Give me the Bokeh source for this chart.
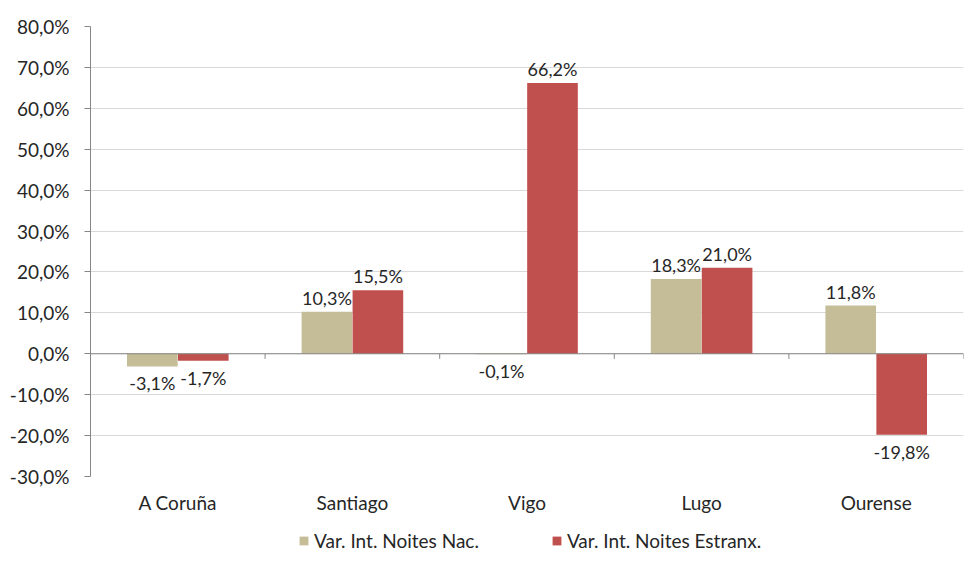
from bokeh.plotting import figure
from bokeh.layouts import column
from bokeh.models import (ColumnDataSource, Legend, LegendItem, Span,
                          CustomJSTickFormatter, FixedTicker, Range1d)
from bokeh.transform import dodge
from bokeh.core.properties import value
from bokeh.embed import file_html
from bokeh.resources import INLINE

categories = ["A Coruña", "Santiago", "Vigo", "Lugo", "Ourense"]
nac = [-3.1, 10.3, -0.1, 18.3, 11.8]
estranx = [-1.7, 15.5, 66.2, 21.0, -19.8]
series_names = ["Var. Int. Noites Nac.", "Var. Int. Noites Estranx."]
y_ticks = [-30, -20, -10, 0, 10, 20, 30, 40, 50, 60, 70, 80]

colors = ["#C4BD97", "#C0504D"]
FONT = "Lato"
TXT = "#262626"
offsets = [-0.146, 0.146]
bar_w = 0.29
LEFT = 90


def fmt(v):
    return f"{v:.1f}".replace(".", ",") + "%"


p = figure(x_range=categories, y_range=Range1d(y_ticks[0], y_ticks[-1]),
           width=964, height=528, output_backend="svg", toolbar_location=None,
           min_border_left=LEFT, min_border_right=1, min_border_top=26,
           min_border_bottom=52)
p.outline_line_color = None
p.background_fill_color = "white"

# grid
p.xgrid.grid_line_color = None
p.ygrid.grid_line_color = "#D9D9D9"
p.ygrid.grid_line_width = 1
p.yaxis.ticker = FixedTicker(ticks=y_ticks)

# y axis
p.yaxis.formatter = CustomJSTickFormatter(code="return tick.toFixed(1).replace('.', ',') + '%';")
p.yaxis.axis_line_color = "#868686"
p.yaxis.major_tick_line_color = "#868686"
p.yaxis.major_tick_out = 6
p.yaxis.major_tick_in = 0
p.yaxis.minor_tick_line_color = None
p.yaxis.major_label_text_font = FONT
p.yaxis.major_label_text_font_size = "19px"
p.yaxis.major_label_text_color = TXT
p.yaxis.major_label_standoff = 15

# x axis
p.xaxis.axis_line_color = None
p.xaxis.major_tick_line_color = None
p.xaxis.minor_tick_line_color = None
p.xaxis.major_label_text_font = FONT
p.xaxis.major_label_text_font_size = "19px"
p.xaxis.major_label_text_color = TXT
p.xaxis.major_label_standoff = 8

# zero line
p.add_layout(Span(location=0, dimension="width", line_color="#868686", line_width=1))

src = ColumnDataSource(dict(cat=categories, nac=nac, estranx=estranx))

renderers = []
for key, off, col in zip(["nac", "estranx"], offsets, colors):
    r = p.vbar(x=dodge("cat", off, range=p.x_range), top=key, bottom=0,
               width=bar_w, source=src, fill_color=col, line_color=None)
    renderers.append(r)

# category separator ticks on zero line
p.segment(x0=dodge("cat", 0.5, range=p.x_range), y0=0,
          x1=dodge("cat", 0.5, range=p.x_range), y1=-1.25,
          source=src, line_color="#868686", line_width=1)

# data labels
for key, off in zip(["nac", "estranx"], offsets):
    vals = src.data[key]
    pos = dict(cat=[c for c, v in zip(categories, vals) if v >= 0],
               v=[v for v in vals if v >= 0],
               t=[fmt(v) for v in vals if v >= 0])
    neg = dict(cat=[c for c, v in zip(categories, vals) if v < 0],
               v=[v for v in vals if v < 0],
               t=[fmt(v) for v in vals if v < 0])
    p.text(x=dodge("cat", off, range=p.x_range), y="v", text="t",
           source=ColumnDataSource(pos), text_align="center",
           text_baseline="bottom", y_offset=-3, text_font=value(FONT),
           text_font_size="18px", text_color=TXT)
    p.text(x=dodge("cat", off, range=p.x_range), y="v", text="t",
           source=ColumnDataSource(neg), text_align="center",
           text_baseline="top", y_offset=6, text_font=value(FONT),
           text_font_size="18px", text_color=TXT)

# legend strip below the chart (zero-height placeholder bars carry the swatches)
pl = figure(width=964, height=26, x_range=Range1d(0, 1), y_range=Range1d(0, 1),
            output_backend="svg", toolbar_location=None,
            min_border_left=LEFT, min_border_right=1, min_border_top=0,
            min_border_bottom=0)
pl.axis.visible = False
pl.grid.grid_line_color = None
pl.outline_line_color = None
leg_src = ColumnDataSource(dict(x=[0.5], y=[0]))
leg_renderers = [pl.vbar(x="x", top="y", bottom="y", width=0.01, source=leg_src,
                         fill_color=c, line_color=None) for c in colors]
legend = Legend(items=[LegendItem(label=n, renderers=[r]) for n, r in zip(series_names, leg_renderers)],
                orientation="horizontal", location=(208, 2),
                label_text_font=FONT, label_text_font_size="19px",
                label_text_color=TXT, glyph_width=11, glyph_height=11,
                spacing=72, border_line_color=None, background_fill_alpha=0,
                label_standoff=5, padding=0, margin=0)
pl.add_layout(legend)

layout = column(p, pl, spacing=0)
open("out.html", "w").write(file_html(layout, INLINE))
